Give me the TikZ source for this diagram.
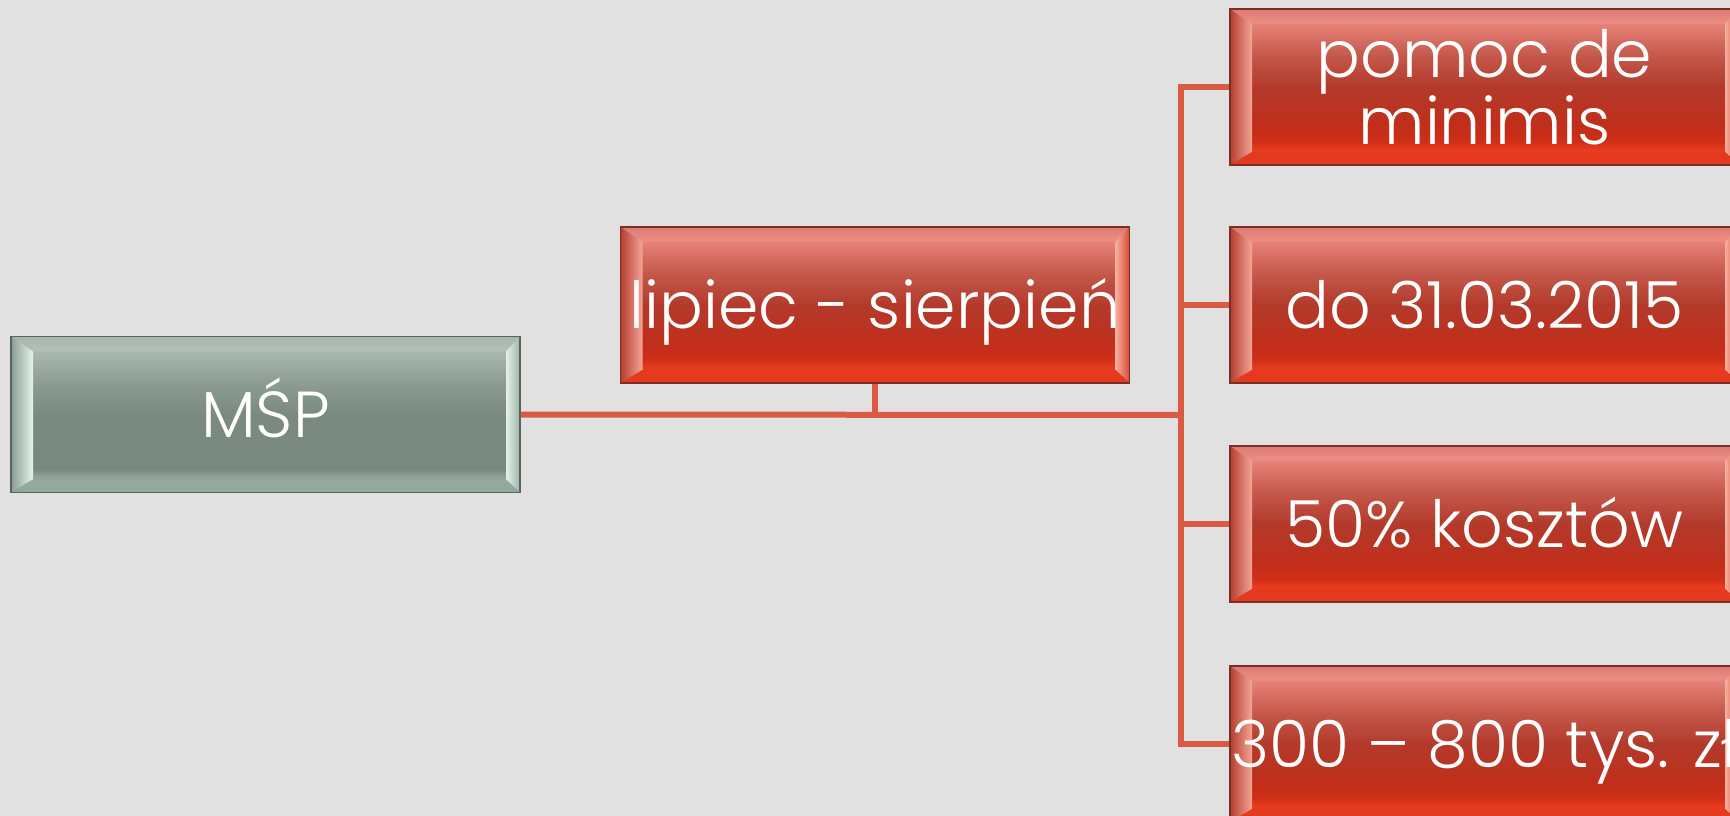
\documentclass[tikz,border=0pt]{standalone}
\usepackage{fontspec}
\setmainfont{Poppins}[UprightFont=* Light]
\usetikzlibrary{calc}
\definecolor{bg}{RGB}{225,225,225}
\definecolor{linkc}{RGB}{219,90,68}
% red box colours
\definecolor{rA}{RGB}{217,112,104}
\definecolor{rB}{RGB}{234,132,123}
\definecolor{rC}{RGB}{196,88,74}
\definecolor{rD}{RGB}{179,58,43}
\definecolor{rE}{RGB}{193,46,26}
\definecolor{rF}{RGB}{207,47,23}
\definecolor{rG}{RGB}{232,59,31}
\definecolor{rBorder}{RGB}{122,46,38}
\definecolor{rLd}{RGB}{180,62,48}
\definecolor{rLl}{RGB}{244,165,150}
\definecolor{rRl}{RGB}{246,176,160}
\definecolor{rRd}{RGB}{215,74,50}
\definecolor{rBot}{RGB}{228,58,30}
% green box colours
\definecolor{gA}{RGB}{160,176,166}
\definecolor{gB}{RGB}{172,187,177}
\definecolor{gC}{RGB}{140,156,146}
\definecolor{gD}{RGB}{122,138,128}
\definecolor{gE}{RGB}{120,137,127}
\definecolor{gF}{RGB}{142,165,152}
\definecolor{gBorder}{RGB}{86,101,93}
\definecolor{gLd}{RGB}{138,156,146}
\definecolor{gLl}{RGB}{230,244,236}
\definecolor{gRl}{RGB}{228,242,234}
\definecolor{gRd}{RGB}{157,179,166}
\definecolor{gBot}{RGB}{146,169,156}
\pgfdeclareverticalshading{redshade}{100bp}{color(0bp)=(rG); color(25bp)=(rG); color(30bp)=(rG); color(32.5bp)=(rF); color(37.5bp)=(rE); color(50bp)=(rD); color(60bp)=(rC); color(71bp)=(rB); color(75bp)=(rA); color(100bp)=(rA)}
\pgfdeclareverticalshading{greenshade}{100bp}{color(0bp)=(gF); color(25bp)=(gF); color(30bp)=(gF); color(32.5bp)=(gE); color(50bp)=(gD); color(60bp)=(gC); color(71bp)=(gB); color(75bp)=(gA); color(100bp)=(gA)}
\newcommand\bevelparts[5]{%
  \coordinate (pNW) at (path picture bounding box.north west);
  \coordinate (pSE) at (path picture bounding box.south east);
  \shade[left color=#1,right color=#2] (pNW) -- ($(pNW)+(22,15)$) -- ($(pNW|-pSE)+(22,-13)$) -- (pNW|-pSE) -- cycle;
  \shade[left color=#3,right color=#4] (pSE|-pNW) -- ($(pSE|-pNW)+(-14,15)$) -- ($(pSE)+(-14,-13)$) -- (pSE) -- cycle;
  \fill[#5] (pNW|-pSE) -- ($(pNW|-pSE)+(22,-13)$) -- ($(pSE)+(-14,-13)$) -- (pSE) -- cycle;
  \fill[white,opacity=0.08] (pNW) -- ($(pNW)+(22,15)$) -- ($(pSE|-pNW)+(-14,15)$) -- (pSE|-pNW) -- cycle;
}
\tikzset{
  boxbase/.style={rectangle, minimum width=509pt, minimum height=156pt, inner sep=0pt,
    line width=1.5pt, text=white, align=center, font=\fontsize{65}{67}\selectfont},
  oneline/.style={text height=56pt, text depth=10pt},
  redbox/.style={boxbase, shading=redshade, draw=rBorder,
    path picture={\bevelparts{rLd}{rLl}{rRl}{rRd}{rBot}}},
  greenbox/.style={boxbase, shading=greenshade, draw=gBorder,
    path picture={\bevelparts{gLd}{gLl}{gRl}{gRd}{gBot}}},
  link/.style={draw=linkc, line width=6pt}
}
\begin{document}
\begin{tikzpicture}[x=1pt,y=-1pt]
\useasboundingbox (0,0) rectangle (1730,816);
\fill[bg] (0,0) rectangle (1730,816);
\node[greenbox,oneline] (msp) at (265.5,414.5) {MŚP};
\node[redbox,oneline] (lip) at (875,305) {lipiec - sierpień};
\node[redbox] (b1) at (1484.5,87) {pomoc de\\minimis};
\node[redbox,oneline] (b2) at (1484.5,305) {do 31.03.2015};
\node[redbox,oneline] (b3) at (1484.5,524) {50\% kosztów};
\node[redbox,oneline] (b4) at (1484.5,744) {300 – 800 tys. zł};
\coordinate (hub) at (1181,415);
\draw[link] (msp.east) -- (hub);
\draw[link] (lip.south) -- (lip.south |- hub);
\draw[link] (hub) |- (b1.west);
\draw[link] (hub) |- (b2.west);
\draw[link] (hub) |- (b3.west);
\draw[link] (hub) |- (b4.west);
\end{tikzpicture}
\end{document}
